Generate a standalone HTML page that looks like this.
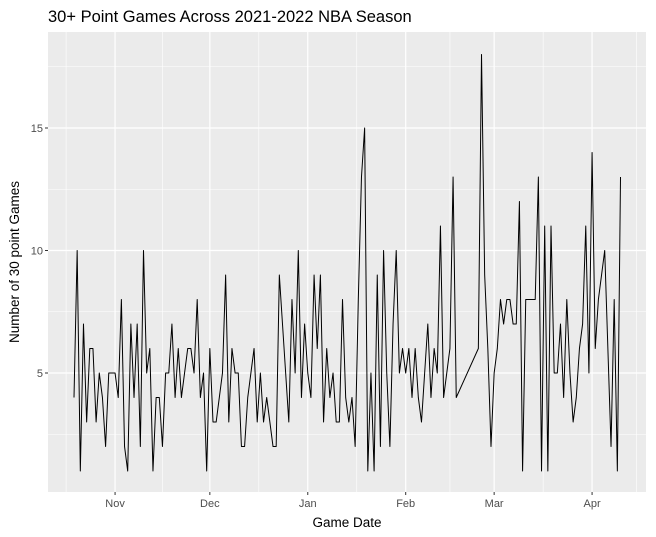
<!DOCTYPE html>
<html><head><meta charset="utf-8">
<style>
html,body{margin:0;padding:0;background:#fff;}
svg{display:block;font-family:"Liberation Sans",Arial,sans-serif;}
</style></head>
<body>
<svg id="chart" width="656" height="537" viewBox="0 0 656 537">
<rect x="0" y="0" width="656" height="537" fill="#fff"/>
<text x="48" y="22" font-size="16.5" fill="#000">30+ Point Games Across 2021-2022 NBA Season</text>
<rect x="48" y="32" width="598" height="460" fill="#ebebeb"/>
<g id="grid"></g>
<g id="series"></g>
<g id="axes"></g>
<text x="347" y="527" font-size="13.5" text-anchor="middle" fill="#000">Game Date</text>
<text x="0" y="0" font-size="13.5" text-anchor="middle" fill="#000" transform="translate(19,262) rotate(-90)">Number of 30 point Games</text>
</svg>
<script>
// days since 2021-10-19
const days = [0,1,2,3,4,5,6,7,8,9,10,11,12,13,14,15,16,17,18,19,20,21,22,23,24,25,26,27,28,29,30,31,32,33,34,35,36,37,38,39,40,41,42,43,44,45,46,47,48,49,50,51,52,53,54,55,56,57,58,59,60,61,62,63,64,65,66,67,68,69,70,71,72,73,74,75,76,77,78,79,80,81,82,83,84,85,86,87,88,89,90,91,92,93,94,95,96,97,98,99,100,101,102,103,104,105,106,107,108,109,110,111,112,113,114,115,116,117,118,119,120,121,128,129,130,131,132,133,134,135,136,137,138,139,140,141,142,143,144,145,146,147,148,149,150,151,152,153,154,155,156,157,158,159,160,161,162,163,164,165,166,167,168,169,170,171,172,173];
const games = [4,10,1,7,3,6,6,3,5,4,2,5,5,5,4,8,2,1,7,4,7,2,10,5,6,1,4,4,2,5,5,7,4,6,4,5,6,6,5,8,4,5,1,6,3,3,4,5,9,3,6,5,5,2,2,4,5,6,3,5,3,4,3,2,2,9,7,5,3,8,5,10,4,7,5,4,9,6,9,3,6,4,5,3,3,8,4,3,4,2,8,13,15,1,5,1,9,2,10,5,2,7,10,5,6,5,6,4,6,4,3,5,7,4,6,5,11,4,5,6,13,4,6,18,9,6,2,5,6,8,7,8,8,7,7,12,1,8,8,8,8,13,1,11,1,11,5,5,7,4,8,5,3,4,6,7,11,5,14,6,8,9,10,6,2,8,1,13];
const yTicks = [5,10,15];
const yMinor = [2.5,7.5,12.5,17.5];
const xTickLabels = ["Nov","Dec","Jan","Feb","Mar","Apr"];
const xTickDays = [13,43,74,105,133,164];
const xMinorDays = [-2.5,28,58.5,89.5,119,148.5,178];

const NS="http://www.w3.org/2000/svg";
const PL=48,PR=646,PT=32,PB=492;
function xs(d){return 74 + d*3.159;}
function ys(v){return 373 - (v-5)*24.5;}
function mk(tag,attrs,parent){const e=document.createElementNS(NS,tag);for(const k in attrs)e.setAttribute(k,attrs[k]);parent.appendChild(e);return e;}
const grid=document.getElementById('grid'), series=document.getElementById('series'), axes=document.getElementById('axes');

yMinor.forEach(v=>{const y=ys(v); if(y<PT||y>PB)return;
  const l=mk('line',{x1:PL,x2:PR,y1:y,y2:y,stroke:'#fff','stroke-width':0.6},grid);
  
  });
xMinorDays.forEach(d=>{const x=xs(d); if(x<PL||x>PR)return;
  const l=mk('line',{x1:x,x2:x,y1:PT,y2:PB,stroke:'#fff','stroke-width':0.6},grid);
  
  });
yTicks.forEach(v=>{const y=ys(v);
  const l=mk('line',{x1:PL,x2:PR,y1:y,y2:y,stroke:'#fff','stroke-width':1.2},grid);
  
  
  const t=mk('line',{x1:PL-3,x2:PL,y1:y,y2:y,stroke:'#333','stroke-width':1},axes);
  
  
  const tx=mk('text',{x:PL-5,y:y+4,'font-size':11,'text-anchor':'end',fill:'#4d4d4d'},axes);
  tx.textContent=v;
  
  });
xTickDays.forEach((d,i)=>{const x=xs(d);
  const l=mk('line',{x1:x,x2:x,y1:PT,y2:PB,stroke:'#fff','stroke-width':1.2},grid);
  
  
  const t=mk('line',{x1:x,x2:x,y1:PB,y2:PB+3,stroke:'#333','stroke-width':1},axes);
  
  
  const tx=mk('text',{x:x,y:PB+15,'font-size':11,'text-anchor':'middle',fill:'#4d4d4d'},axes);
  tx.textContent=xTickLabels[i];
  
  });
let dstr='';
days.forEach((d,i)=>{dstr+=(i?'L':'M')+xs(d).toFixed(2)+','+ys(games[i]).toFixed(2);});
const path=mk('path',{d:dstr,fill:'none',stroke:'#000','stroke-width':1,'stroke-linejoin':'round'},series);


</script>
</body></html>
